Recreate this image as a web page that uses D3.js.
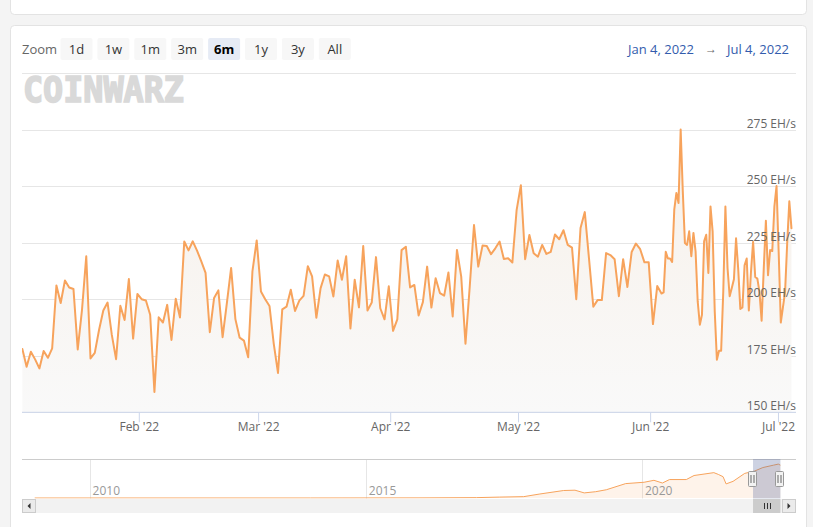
<!DOCTYPE html>
<html>
<head>
<meta charset="utf-8">
<script src="https://cdn.jsdelivr.net/npm/d3@7"></script>
<style>
  html, body { margin: 0; padding: 0; background: #f4f4f4; }
  svg { display: block; font-family: "Open Sans", sans-serif; }
</style>
</head>
<body>
<svg id="chart" width="813" height="527"></svg>
<script>
// Network hashrate, EH/s - one reading a day from Jan 4 ...
const dailyHashrate = [
  178.0, 170.1, 176.8, 173.4, 169.4, 177.1, 174.1, 178.3, 206.1, 198.3,
  208.3, 205.2, 204.5, 177.8, 195.3, 219.0, 173.8, 176.3, 186.4, 195.0,
  198.5, 184.2, 173.5, 197.1, 190.8, 208.9, 182.6, 202.3, 200.0, 199.4,
  193.1, 159.0, 192.0, 189.7, 197.5, 182.0, 200.2, 191.9, 225.5, 221.6,
  225.6, 221.5, 216.7, 211.6, 185.4, 200.5, 203.9, 183.2, 198.3, 213.8,
  191.2, 183.0, 181.7, 174.3, 212.3, 226.0, 203.4,
  200.0, 197.0, 180.4, 167.4, 195.5, 196.7, 204.2, 194.8, 199.4, 201.5,
  214.6, 210.1, 191.8, 204.9, 210.9, 210.1, 201.2, 217.1, 208.6, 219.0,
  187.1, 208.6, 196.4, 223.5, 195.0, 198.5, 218.6, 196.0, 191.1, 205.7,
  186.0, 191.1, 221.7,
  223.2, 205.2, 206.3, 192.8, 198.7, 214.4, 196.3, 209.3, 202.7, 201.6,
  211.8, 192.4, 221.8, 210.0, 180.3, 205.6, 232.8, 214.4, 223.7, 223.5,
  219.9, 222.5, 225.5, 217.8, 218.1, 216.2, 239.4, 250.4, 217.7, 228.4,
  220.3, 218.8, 224.0, 220.0,
  220.9, 228.6, 226.5, 230.5, 224.0, 222.8, 200.0, 231.5, 238.5, 217.7,
  196.7, 199.6, 199.6, 220.4, 219.5, 217.7, 201.3, 217.7, 205.4, 220.9,
  224.6, 222.1, 216.3, 216.3, 189.0, 205.8, 202.5
];
// ... then two readings a day from early June
const halfDayHashrate = [
  203.0, 221.0, 218.0, 218.0, 216.5, 239.6, 247.0, 242.5, 275.0, 247.7,
  224.8, 224.0, 230.0, 219.0, 229.3, 221.2, 199.0, 188.7, 193.1, 225.6,
  228.5, 211.6, 241.0, 230.0, 194.6, 173.2, 177.2, 177.2, 203.5, 241.0,
  213.8, 201.3, 205.0, 208.8, 226.9, 213.5, 195.7, 196.4, 215.0, 218.0,
  195.0, 212.0, 225.4, 209.8, 209.1, 203.1, 190.5, 213.5, 234.7, 210.6,
  221.7, 221.3, 241.1, 250.0, 221.0, 189.7, 196.4, 203.1, 224.7, 243.3,
  231.4
];
const firstReading = new Date(2022, 0, 4, 16);
const rangeFrom = new Date(2022, 0, 4);
const rangeTo = new Date(2022, 6, 4);

const yTickValues = [150, 175, 200, 225, 250, 275, 300];
const monthTicks = ["2022-02-01", "2022-03-01", "2022-04-01", "2022-05-01", "2022-06-01", "2022-07-01"];
const zoomButtons = ["1d", "1w", "1m", "3m", "6m", "1y", "3y", "All"];
const selectedButton = "6m";

// navigator: whole history, EH/s
const navDates = [
  "2009-01-03", "2014-01-01", "2016-01-01", "2017-01-01", "2017-06-01", "2017-11-10",
  "2018-02-20", "2018-08-01", "2018-10-15", "2018-12-15", "2019-03-01", "2019-05-10",
  "2019-09-15", "2020-01-15", "2020-03-20", "2020-05-15", "2020-07-01", "2020-10-20",
  "2020-12-10", "2021-04-20", "2021-05-20", "2021-06-20", "2021-07-10", "2021-08-25",
  "2021-11-10", "2022-01-15", "2022-03-10", "2022-05-20", "2022-06-20", "2022-07-04"
];
const navHashrate = [
  0, 0.1, 0.8, 2.5, 6, 9,
  26, 50, 52, 34, 42, 55,
  96, 105, 118, 100, 123, 123,
  150, 169, 157, 142, 94, 111,
  164, 180, 203, 219, 226, 219
];
const navYearTicks = ["2010-01-01", "2015-01-01", "2020-01-01"];

// build the series table
const series = dailyHashrate.map((v, i) => ({ date: d3.timeHour.offset(firstReading, 24 * i), value: v }));
const lastDaily = series[series.length - 1].date;
halfDayHashrate.forEach((v, i) => series.push({ date: d3.timeHour.offset(lastDaily, 12 * (i + 1)), value: v }));
const navSeries = navDates.map((d, i) => ({ date: d3.isoParse(d), value: navHashrate[i] }));

const svg = d3.select("#chart");
const plot = { left: 22, right: 796, top: 73, bottom: 412.3 };

// cards
svg.append("rect").attr("x", 10.5).attr("y", -10).attr("width", 796).attr("height", 24.5)
  .attr("rx", 4).attr("fill", "#fff").attr("stroke", "#e3e3e3");
svg.append("rect").attr("x", 10.5).attr("y", 25.5).attr("width", 796).attr("height", 530)
  .attr("rx", 4).attr("fill", "#fff").attr("stroke", "#e3e3e3");

// range selector
svg.append("text").attr("x", 22).attr("y", 54).attr("font-size", 13).attr("fill", "#666").text("Zoom");
const btn = svg.selectAll("g.btn").data(zoomButtons).enter().append("g")
  .attr("class", "btn")
  .attr("transform", (d, i) => `translate(${60.5 + i * 36.9},38)`);
btn.append("rect").attr("width", 32).attr("height", 22).attr("rx", 2)
  .attr("fill", d => d === selectedButton ? "#e6ebf5" : "#f7f7f7");
btn.append("text").attr("x", 16).attr("y", 15.5).attr("text-anchor", "middle")
  .attr("font-size", 13)
  .attr("font-weight", d => d === selectedButton ? "bold" : "normal")
  .attr("fill", d => d === selectedButton ? "#000" : "#333")
  .text(d => d);

const fmtInput = d3.timeFormat("%b %-d, %Y");
svg.append("text").attr("x", 694).attr("y", 54).attr("text-anchor", "end")
  .attr("font-size", 13).attr("fill", "#335cad").text(fmtInput(rangeFrom));
svg.append("text").attr("x", 711).attr("y", 53).attr("text-anchor", "middle")
  .attr("font-size", 12).attr("fill", "#666").text("\u2192");
svg.append("text").attr("x", 789).attr("y", 54).attr("text-anchor", "end")
  .attr("font-size", 13).attr("fill", "#335cad").text(fmtInput(rangeTo));

// scales
const x = d3.scaleTime()
  .domain([new Date(2022, 0, 4), new Date(2022, 6, 5)])
  .range([19.5, 795]);
const y = d3.scaleLinear().domain([150, 300]).range([plot.bottom, plot.top]);

// watermark logo
svg.append("text").attr("x", 23).attr("y", 102)
  .attr("font-family", "DejaVu Sans Mono").attr("font-weight", "bold")
  .attr("font-size", 35).attr("fill", "#d9d9d9")
  .attr("stroke", "#d9d9d9").attr("stroke-width", 1.6).attr("stroke-linejoin", "miter")
  .attr("textLength", 161).attr("lengthAdjust", "spacingAndGlyphs")
  .text("COINWARZ");

// grid lines
svg.append("g").selectAll("line").data(yTickValues).enter().append("line")
  .attr("x1", plot.left).attr("x2", plot.right)
  .attr("y1", d => Math.round(y(d)) + 0.5).attr("y2", d => Math.round(y(d)) + 0.5)
  .attr("stroke", "#e6e6e6");

// area + line
const defs = svg.append("defs");
defs.append("clipPath").attr("id", "plotClip").append("rect")
  .attr("x", plot.left).attr("y", plot.top).attr("width", plot.right - plot.left).attr("height", plot.bottom - plot.top);
const grad = defs.append("linearGradient").attr("id", "areaFill")
  .attr("gradientUnits", "userSpaceOnUse").attr("x1", 0).attr("x2", 0)
  .attr("y1", plot.top).attr("y2", plot.bottom);
grad.append("stop").attr("offset", 0).attr("stop-color", "#f7efe6");
grad.append("stop").attr("offset", 1).attr("stop-color", "#f9f9f9");

const g = svg.append("g").attr("clip-path", "url(#plotClip)");
g.append("path").datum(series)
  .attr("fill", "url(#areaFill)")
  .attr("d", d3.area().x(d => x(d.date)).y0(y(150)).y1(d => y(d.value)));
g.append("path").datum(series)
  .attr("fill", "none").attr("stroke", "#f7a35c").attr("stroke-width", 2)
  .attr("stroke-linejoin", "round").attr("stroke-linecap", "round")
  .attr("d", d3.line().x(d => x(d.date)).y(d => y(d.value)));

// y labels (last one hidden)
svg.append("g").selectAll("text").data(yTickValues.slice(0, -1)).enter().append("text")
  .attr("x", 796).attr("y", d => y(d) - 2)
  .attr("text-anchor", "end").attr("font-size", 12).attr("fill", "#666")
  .text(d => `${d} EH/s`);

// x axis
const xAxis = d3.axisBottom(x)
  .tickValues(monthTicks.map(d => d3.isoParse(d + "T00:00").valueOf()).map(v => new Date(v)))
  .tickFormat(d3.timeFormat("%b '%y"))
  .tickSize(10).tickPadding(6);
const xg = svg.append("g").attr("transform", `translate(0,${plot.bottom})`).call(xAxis);
xg.select(".domain").remove();
xg.selectAll(".tick line").attr("stroke", "#ccd6eb");
xg.selectAll(".tick text").attr("font-size", 12).attr("fill", "#666")
  .attr("font-family", "Open Sans").attr("dy", null).attr("y", 18.5);
svg.append("line").attr("x1", plot.left).attr("x2", plot.right)
  .attr("y1", plot.bottom).attr("y2", plot.bottom).attr("stroke", "#ccd6eb");

// navigator
const nav = { top: 459, bottom: 498.5 };
const navX = d3.scaleTime()
  .domain([new Date(2010, 0, 1), new Date(2020, 0, 1)])
  .range([89.6, 642]);
const navY = d3.scaleLinear().domain([0, 260]).range([498, nav.top]);

svg.append("g").selectAll("line").data(navYearTicks).enter().append("line")
  .attr("x1", d => Math.round(navX(d3.isoParse(d))) + 0.5)
  .attr("x2", d => Math.round(navX(d3.isoParse(d))) + 0.5)
  .attr("y1", nav.top).attr("y2", nav.bottom).attr("stroke", "#e6e6e6");

defs.append("clipPath").attr("id", "navClip").append("rect")
  .attr("x", plot.left).attr("y", nav.top).attr("width", plot.right - plot.left).attr("height", nav.bottom - nav.top);
const ng = svg.append("g").attr("clip-path", "url(#navClip)");
ng.append("path").datum(navSeries)
  .attr("fill", "rgba(247,163,92,0.13)")
  .attr("d", d3.area().x(d => navX(d.date)).y0(498).y1(d => navY(d.value)));
ng.append("path").datum(navSeries)
  .attr("fill", "none").attr("stroke", "#f7a35c").attr("stroke-width", 1)
  .attr("d", d3.line().x(d => navX(d.date)).y(d => navY(d.value)));

svg.append("g").selectAll("text").data(navYearTicks).enter().append("text")
  .attr("x", d => navX(d3.isoParse(d)) + 3).attr("y", 495)
  .attr("font-size", 12).attr("fill", "#999")
  .text(d => d.slice(0, 4));

svg.append("line").attr("x1", plot.left).attr("x2", plot.right)
  .attr("y1", nav.top + 0.5).attr("y2", nav.top + 0.5).attr("stroke", "#cccccc");

const m0 = navX(rangeFrom), m1 = navX(rangeTo);
svg.append("rect").attr("x", m0).attr("y", nav.top).attr("width", m1 - m0).attr("height", nav.bottom - nav.top)
  .attr("fill", "rgba(90,105,160,0.3)");

// scrollbar
const sb = { y: 499, h: 14 };
svg.append("rect").attr("x", plot.left).attr("y", sb.y).attr("width", plot.right - plot.left).attr("height", sb.h)
  .attr("fill", "#f2f2f2");
svg.append("rect").attr("x", m0).attr("y", sb.y).attr("width", m1 - m0).attr("height", sb.h)
  .attr("fill", "#cccccc");
[-3, 0, 3].forEach(o => {
  const cx = Math.round((m0 + m1) / 2) + o + 0.5;
  svg.append("line").attr("x1", cx).attr("x2", cx).attr("y1", sb.y + 4).attr("y2", sb.y + 10)
    .attr("stroke", "#333");
});
[[plot.left, "left"], [plot.right - 14, "right"]].forEach(([bx, dir]) => {
  svg.append("rect").attr("x", bx + 0.5).attr("y", sb.y + 0.5).attr("width", 13).attr("height", 13)
    .attr("fill", "#ebebeb").attr("stroke", "#cccccc");
  const cx = bx + 7, cy = sb.y + 7;
  const pts = dir === "left"
    ? [[cx + 1.5, cy - 3], [cx + 1.5, cy + 3], [cx - 1.5, cy]]
    : [[cx - 1.5, cy - 3], [cx - 1.5, cy + 3], [cx + 1.5, cy]];
  svg.append("path").attr("d", "M" + pts.join("L") + "Z").attr("fill", "#333");
});

// navigator handles
[m0, m1].forEach(hx => {
  const hxr = Math.round(hx);
  svg.append("rect").attr("x", hxr - 4.5).attr("y", 471.5).attr("width", 8).attr("height", 15)
    .attr("rx", 1).attr("fill", "#f2f2f2").attr("stroke", "#999");
  [-1.5, 1.5].forEach(o => {
    svg.append("line").attr("x1", hxr + o - 0.5).attr("x2", hxr + o - 0.5)
      .attr("y1", 475).attr("y2", 483).attr("stroke", "#666");
  });
});
</script>
</body>
</html>
